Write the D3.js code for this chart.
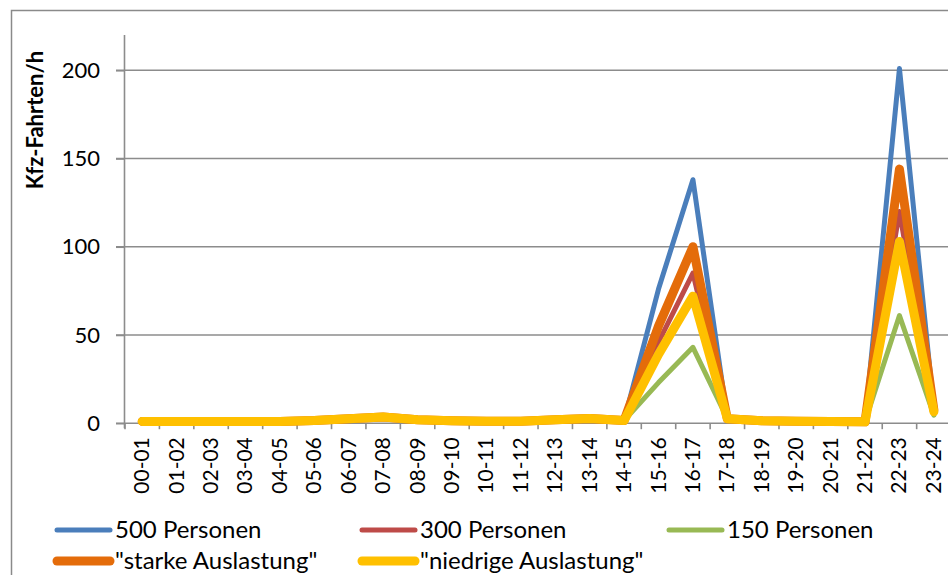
<!DOCTYPE html>
<html>
<head>
<meta charset="utf-8">
<script src="https://cdn.jsdelivr.net/npm/d3@7"></script>
<style>
  html, body { margin: 0; padding: 0; background: #fff; }
  svg { display: block; }
  text { font-family: Lato, "Open Sans", sans-serif; fill: #000; }
</style>
</head>
<body>
<svg id="chart" width="948" height="575"></svg>
<script>
// Hourly intervals
const categories = ["00-01","01-02","02-03","03-04","04-05","05-06","06-07","07-08",
  "08-09","09-10","10-11","11-12","12-13","13-14","14-15","15-16","16-17","17-18",
  "18-19","19-20","20-21","21-22","22-23","23-24"];

// Vehicle trips per hour for each scenario
const p500     = [1,1,1,1,1,1.5,2.5,3.5,2,1.4,1.1,1.1,2,2.7,1.5, 76,138, 2.5,1.4,1.1,1,0.8, 201, 8];
const p300     = [1,1,1,1,1,1.5,2.5,3.5,2,1.4,1.1,1.1,2,2.7,1.5, 46, 85, 2.5,1.4,1.1,1,0.8, 120, 7];
const p150     = [1,1,1,1,1,1.5,2.5,3.5,2,1.4,1.1,1.1,2,2.7,1.5, 23, 43, 2.5,1.4,1.1,1,0.8,  61, 4.5];
const starke   = [1,1,1,1,1,1.5,2.5,3.5,2,1.4,1.1,1.1,2,2.7,1.5, 55,100, 2.5,1.4,1.1,1,0.8, 144, 7.5];
const niedrige = [1,1,1,1,1,1.5,2.5,3.5,2,1.4,1.1,1.1,2,2.7,1.5, 39, 72, 2.5,1.4,1.1,1,0.8, 103, 6.5];

const seriesNames = ["500 Personen","300 Personen","150 Personen","\"starke Auslastung\"","\"niedrige Auslastung\""];
const seriesData  = [p500, p300, p150, starke, niedrige];
const seriesColors = ["#4a7ebb","#be4b48","#98b954","#e46c0a","#ffc000"];
const seriesWidths = [5, 5, 5, 9, 9];

const yTicks = [0, 50, 100, 150, 200];
const yTitle = "Kfz-Fahrten/h";

const svg = d3.select("#chart");
const plotLeft = 125, plotTop = 35, plotBottom = 423.2;
const step = 34.42;
const plotRight = plotLeft + step * categories.length;

// Outer chart frame
svg.append("rect")
  .attr("x", 11.5).attr("y", 10.5)
  .attr("width", 1000).attr("height", 1000)
  .attr("fill", "none").attr("stroke", "#8a8a8a").attr("stroke-width", 1.5);

const x = d3.scaleBand().domain(categories).range([plotLeft, plotRight]).padding(0);
const y = d3.scaleLinear().domain([0, 220]).range([plotBottom, plotTop]);

// Horizontal gridlines (extend left as ticks)
svg.append("g").selectAll("line")
  .data(yTicks.filter(d => d > 0))
  .join("line")
  .attr("x1", plotLeft - 9).attr("x2", plotRight)
  .attr("y1", d => y(d)).attr("y2", d => y(d))
  .attr("stroke", "#8c8c8c").attr("stroke-width", 1.6);

// Y axis
const yAxis = d3.axisLeft(y).tickValues(yTicks).tickSize(9).tickPadding(16);
const gy = svg.append("g").attr("transform", `translate(${plotLeft},0)`).call(yAxis);
gy.select(".domain").attr("d", `M-0.5,${plotTop}V${plotBottom + 5}`)
  .attr("stroke", "#8c8c8c").attr("stroke-width", 1.6);
gy.selectAll(".tick line").attr("stroke", "#8c8c8c").attr("stroke-width", 1.6);
gy.selectAll(".tick text")
  .style("font-family", "Lato, sans-serif").style("font-size", "22px").attr("fill", "#000");

// X axis
const gx = svg.append("g").attr("transform", `translate(0,${plotBottom})`);
gx.append("line")
  .attr("x1", plotLeft - 9).attr("x2", plotRight)
  .attr("y1", 0).attr("y2", 0)
  .attr("stroke", "#8c8c8c").attr("stroke-width", 1.6);
gx.selectAll("line.tick")
  .data(d3.range(categories.length + 1))
  .join("line").attr("class", "tick")
  .attr("x1", i => plotLeft + i * step).attr("x2", i => plotLeft + i * step)
  .attr("y1", 0).attr("y2", 6)
  .attr("stroke", "#8c8c8c").attr("stroke-width", 1.6);
gx.selectAll("text")
  .data(categories)
  .join("text")
  .attr("transform", d => `translate(${x(d) + x.bandwidth() / 2 + 7},${14}) rotate(-90)`)
  .attr("text-anchor", "end")
  .style("font-size", "21px")
  .text(d => d);

// Y title
svg.append("text")
  .attr("transform", `translate(43,120) rotate(-90)`)
  .attr("text-anchor", "middle")
  .style("font-size", "22px").style("font-weight", "bold")
  .text(yTitle);

// Series lines
const line = d3.line()
  .x((d, i) => x(categories[i]) + x.bandwidth() / 2)
  .y(d => y(d));

svg.append("g").selectAll("path")
  .data(seriesData)
  .join("path")
  .attr("d", d => line(d))
  .attr("fill", "none")
  .attr("stroke", (d, i) => seriesColors[i])
  .attr("stroke-width", (d, i) => seriesWidths[i])
  .attr("stroke-linejoin", "round")
  .attr("stroke-linecap", "round");

// Legend
const legendPos = [[57, 530], [362, 530], [669, 530], [57, 561], [362, 561]];
const lg = svg.append("g").selectAll("g")
  .data(seriesNames)
  .join("g")
  .attr("transform", (d, i) => `translate(${legendPos[i][0]},${legendPos[i][1]})`);
lg.append("line")
  .attr("x1", 0).attr("x2", 53).attr("y1", 0).attr("y2", 0)
  .attr("stroke", (d, i) => seriesColors[i])
  .attr("stroke-width", (d, i) => seriesWidths[i])
  .attr("stroke-linecap", "round");
lg.append("text")
  .attr("x", 58).attr("y", 0).attr("dy", "0.35em")
  .style("font-size", "24px")
  .text(d => d);
</script>
</body>
</html>
